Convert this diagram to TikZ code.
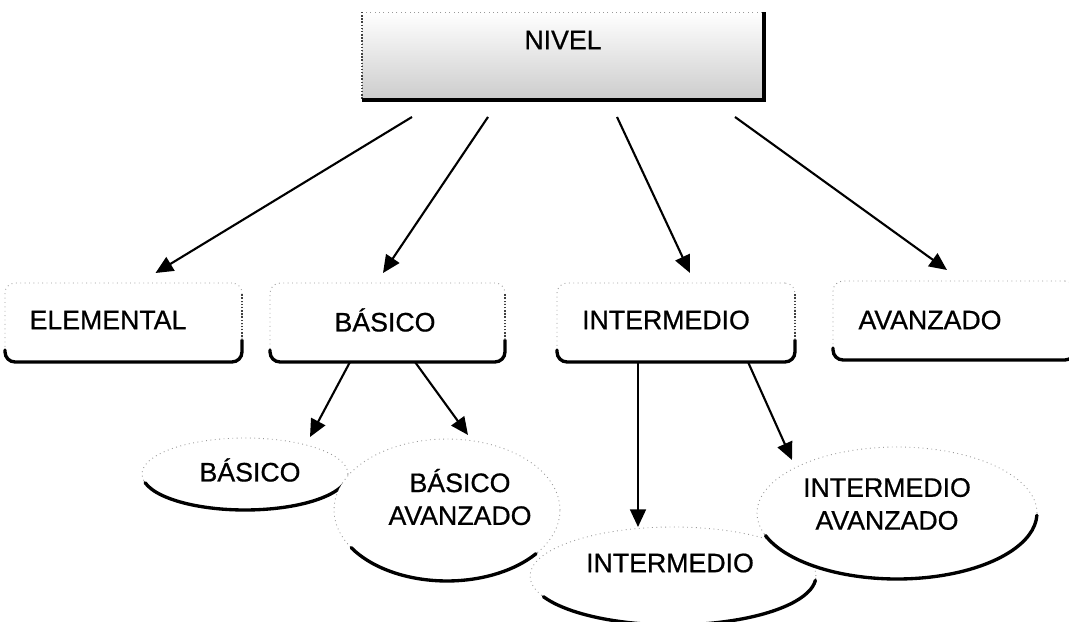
\documentclass[tikz,border=0pt]{standalone}
\usepackage{fontspec}
\setmainfont[FakeBold=0.7]{Liberation Sans}
\usetikzlibrary{shapes.geometric,arrows.meta,calc}
\begin{document}
\begin{tikzpicture}[x=0.02cm,y=0.02cm,
  font=\fontsize{15.2}{18.7}\selectfont,
  faint/.style={draw=black!40, dotted, line width=0.5pt},
  topbox/.style={rectangle, faint, inner sep=0pt, outer sep=0pt,
    top color=white, middle color=white, bottom color=black!20},
  levelbox/.style={rectangle, rounded corners=0.2cm, faint, fill=white,
    inner sep=0pt, outer sep=0pt, minimum height=1.58cm},
  ellip/.style={ellipse, faint, fill=white, inner sep=0pt, outer sep=0pt},
  shadowedge/.style={draw=black, line width=1.9pt, line cap=round},
  sideedge/.style={draw=black!75, densely dotted, line width=0.8pt},
  arr/.style={draw=black, line width=1.2pt, -{Triangle[length=10pt,width=9pt]}},
  txt/.style={inner sep=0pt, align=center}
]
\useasboundingbox (0,0) rectangle (1069,622);

% ---- top box ----
\node[topbox, minimum width=8.04cm, minimum height=1.76cm] (nivel) at (563,566) {};
\draw[sideedge] (nivel.north west) -- (nivel.south west);
\draw[shadowedge, line cap=butt] (nivel.north east) -- (nivel.south east) -- (nivel.south west);
\node[txt] (niveltxt) at ([shift={(0,16)}]nivel.center) {NIVEL};

% ---- second row: rounded boxes with a heavy lower edge ----
\node[levelbox, minimum width=4.74cm] (elem) at (123.5,299.5) {};
\node[levelbox, minimum width=4.70cm] (basico) at (387.5,299.5) {};
\node[levelbox, minimum width=4.76cm] (inter) at (676,299.5) {};
\node[levelbox, minimum width=4.84cm] (avanz) at (954,301.5) {};

\foreach \b in {elem,basico,inter,avanz}{
  \draw[shadowedge, rounded corners=0.2cm]
    ([shift={(0,12)}]\b.south west) -- (\b.south west) -- (\b.south east)
    -- ([shift={(0,22)}]\b.south east);
  \draw[sideedge] ([shift={(0,22)}]\b.south east) -- ([shift={(0,-10)}]\b.north east);
}

\node[txt] (elemtxt) at ([shift={(-15.5,2.5)}]elem.center) {ELEMENTAL};
\node[txt] (basicotxt) at ([shift={(-2.5,2.5)}]basico.center) {BÁSICO};
\node[txt] (intertxt) at ([shift={(-10,2.5)}]inter.center) {INTERMEDIO};
\node[txt] (avanztxt) at ([shift={(-24,0.5)}]avanz.center) {AVANZADO};

% ---- third row: ellipses ----
\node[ellip, minimum width=4.12cm, minimum height=1.44cm] (bb) at (245,148) {};
\draw[shadowedge] ([shift={(194:2.06cm and 0.72cm)}]bb.center)
  arc[start angle=194, end angle=345, x radius=2.06cm, y radius=0.72cm];

\node[ellip, minimum width=4.52cm, minimum height=2.84cm] (ba) at (447,112) {};
\draw[shadowedge] ([shift={(212:2.26cm and 1.42cm)}]ba.center)
  arc[start angle=212, end angle=322, x radius=2.26cm, y radius=1.42cm];

\node[ellip, minimum width=5.72cm, minimum height=1.96cm] (ie) at (673,46) {};
\draw[shadowedge] ([shift={(205:2.86cm and 0.98cm)}]ie.center)
  arc[start angle=205, end angle=355, x radius=2.86cm, y radius=0.98cm];

\node[ellip, minimum width=5.6cm, minimum height=2.64cm] (iav) at (897,109) {};
\draw[shadowedge] ([shift={(200:2.8cm and 1.32cm)}]iav.center)
  arc[start angle=200, end angle=358, x radius=2.8cm, y radius=1.32cm];

\node[txt] (bbtxt) at ([shift={(5,4)}]bb.center) {BÁSICO};
\node[txt] (batxt) at ([shift={(13,13)}]ba.center) {BÁSICO\\AVANZADO};
\node[txt] (ietxt) at ([shift={(-3,13)}]ie.center) {INTERMEDIO};
\node[txt] (iavtxt) at ([shift={(-10,9)}]iav.center) {INTERMEDIO\\AVANZADO};

% ---- connectors ----
\draw[arr] ([shift={(-151,-17)}]nivel.south) -- ([shift={(32,10)}]elem.north);
\draw[arr] ([shift={(-75,-17)}]nivel.south) -- ([shift={(-4.5,10)}]basico.north);
\draw[arr] ([shift={(54,-17)}]nivel.south) -- ([shift={(14,10)}]inter.north);
\draw[arr] ([shift={(172,-17)}]nivel.south) -- ([shift={(-7,11)}]avanz.north);

\draw[arr] ([shift={(-37.5,0)}]basico.south) -- ([shift={(65,37)}]bb.center);
\draw[arr] ([shift={(27.5,0)}]basico.south) -- ([shift={(21,75)}]ba.center);
\draw[arr] ([shift={(-38,0)}]inter.south) -- ([shift={(-35,49)}]ie.center);
\draw[arr] ([shift={(72,0)}]inter.south) -- ([shift={(-105,53)}]iav.center);
\end{tikzpicture}
\end{document}
